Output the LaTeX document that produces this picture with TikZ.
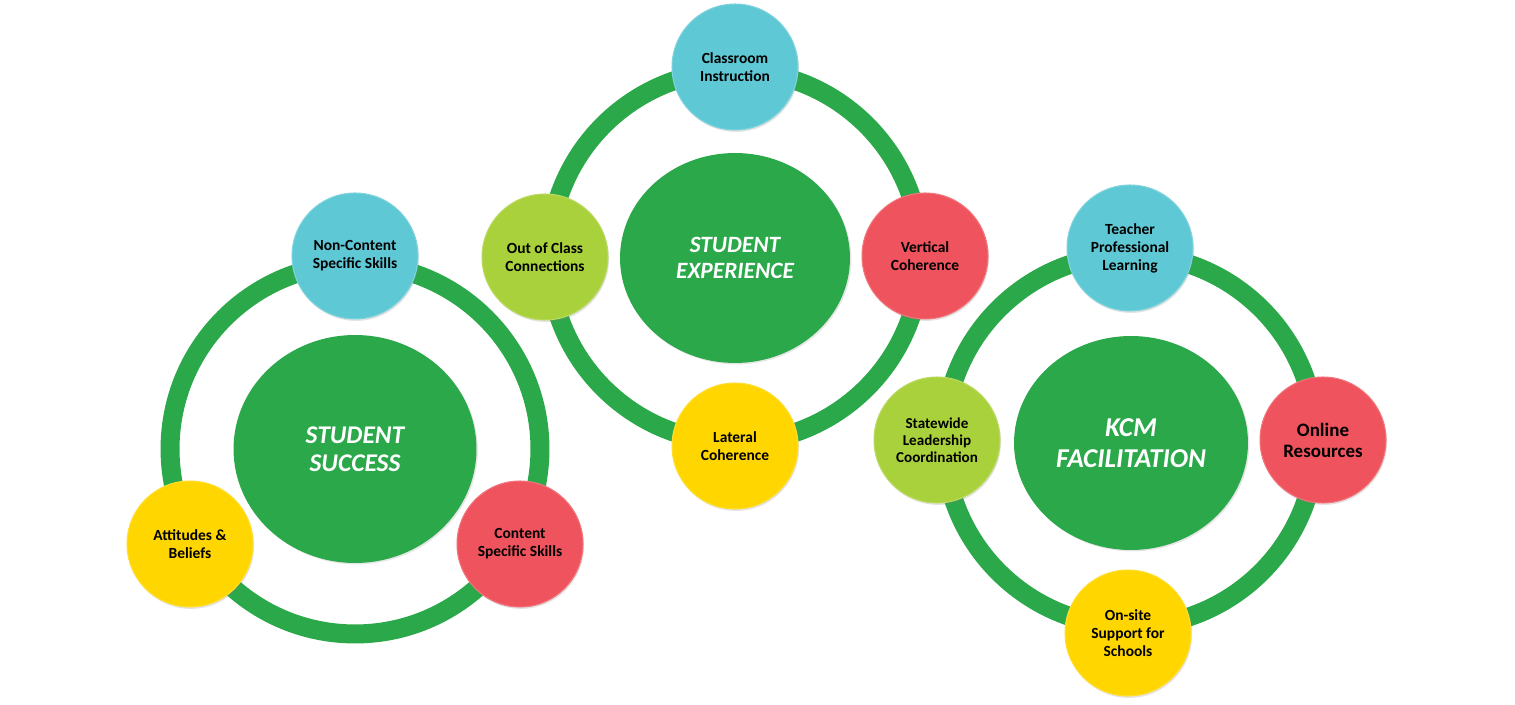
\documentclass[tikz,border=0pt]{standalone}
\usepackage{fontspec}
\setmainfont{Carlito}
\usetikzlibrary{shapes.geometric,shadows}
\definecolor{ringgreen}{HTML}{2AA84A}
\definecolor{cyanc}{HTML}{5FC8D5}
\definecolor{limec}{HTML}{A9D13B}
\definecolor{redc}{HTML}{EF535D}
\definecolor{yellowc}{HTML}{FFD600}
\tikzset{
  ring/.style={draw=ringgreen, line width=0.38cm},
  core/.style={ellipse, fill=ringgreen, text=white, align=center, inner sep=0pt,
    drop shadow={opacity=0.2, shadow xshift=0.8pt, shadow yshift=-0.8pt}},
  bubble/.style={circle, minimum size=2.52cm, inner sep=0pt, align=center,
    font=\bfseries\fontsize{8.8}{10.2}\selectfont, text=black,
    drop shadow={opacity=0.22, shadow xshift=0.6pt, shadow yshift=-1.1pt}},
  cyanb/.style={bubble, fill=cyanc, draw=cyanc!80!white, line width=0.6pt},
  limeb/.style={bubble, fill=limec, draw=limec!80!white, line width=0.6pt},
  redb/.style={bubble, fill=redc, draw=redc!80!white, line width=0.6pt},
  yellowb/.style={bubble, fill=yellowc, draw=yellowc!80!white, line width=0.6pt},
}
\begin{document}
\begin{tikzpicture}[x=0.02cm, y=-0.02cm]
\useasboundingbox (0,0) rectangle (1515,705);
% ring centres
\coordinate (c1) at (355,449);
\coordinate (c2) at (735,256.5);
\coordinate (c3) at (1130,440.5);
\draw[ring] (c1) circle[radius=3.7cm];
\draw[ring] (c2) circle[radius=3.72cm];
\draw[ring] (c3) circle[radius=3.72cm];
% cores
\node[core, minimum width=4.86cm, minimum height=4.56cm,
  font=\bfseries\itshape\fontsize{14.5}{16}\selectfont] (ss) at (355,449) {STUDENT\\SUCCESS};
\node[core, minimum width=4.6cm, minimum height=4.2cm,
  font=\bfseries\itshape\fontsize{13.3}{14.8}\selectfont] (se) at (735,258) {STUDENT\\EXPERIENCE};
\node[core, minimum width=4.68cm, minimum height=4.28cm,
  font=\bfseries\itshape\fontsize{15.5}{18}\selectfont] (kcm) at (1131,443) {KCM\\FACILITATION};
% student success bubbles
\node[cyanb] (ncs) at (355,256) {Non-Content\\Specific Skills};
\node[yellowb] (ab) at (190,544) {Attitudes \&\\Beliefs};
\node[redb] (css) at (520,544) {Content\\Specific Skills};
% student experience bubbles
\node[cyanb] (ci) at (735,67) {Classroom\\Instruction};
\node[limeb] (occ) at (545,257) {Out of Class\\Connections};
\node[redb] (vc) at (925,256) {Vertical\\Coherence};
\node[yellowb] (lc) at (735,446) {Lateral\\Coherence};
% KCM bubbles
\node[cyanb] (tpl) at (1130,248) {Teacher\\Professional\\Learning};
\node[limeb, font=\bfseries\fontsize{8.6}{9.6}\selectfont] (slc) at (937,440) {Statewide\\Leadership\\Coordination};
\node[redb, font=\bfseries\fontsize{10.8}{12}\selectfont] (olr) at (1323,440) {Online\\Resources};
\node[yellowb] (oss) at (1128,633) {On-site\\Support for\\Schools};
\end{tikzpicture}
\end{document}
